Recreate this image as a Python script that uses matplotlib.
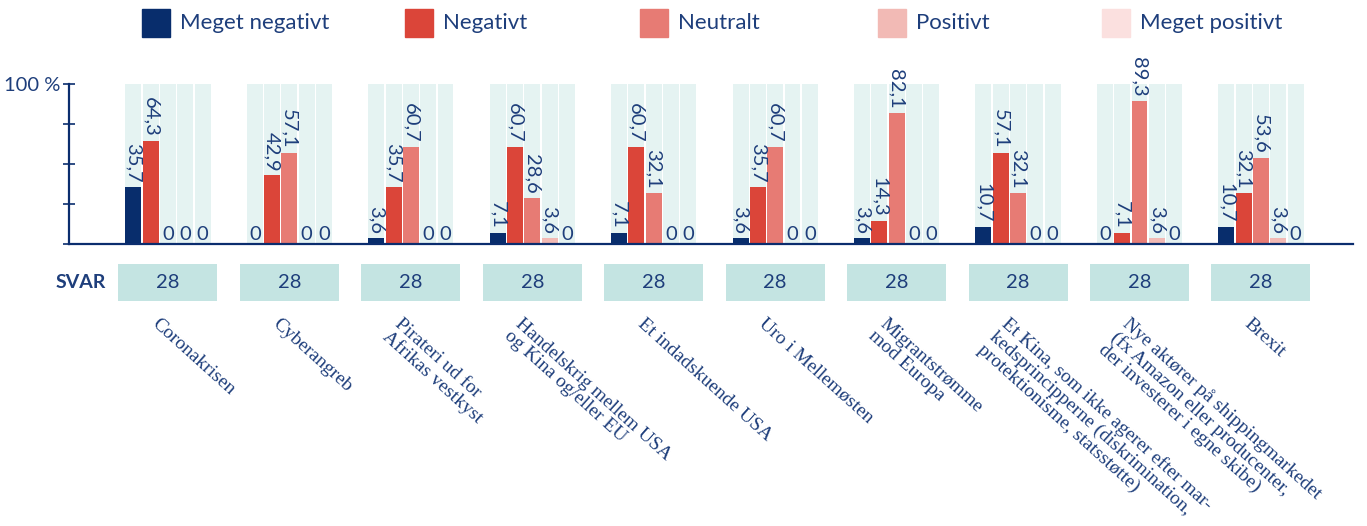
import matplotlib
matplotlib.use("Agg")
import numpy as np
import matplotlib.pyplot as plt
from matplotlib.patches import Rectangle
from matplotlib.transforms import blended_transform_factory

# data
categories = [
    "Coronakrisen",
    "Cyberangreb",
    "Pirateri ud for\nAfrikas vestkyst",
    "Handelskrig mellem USA\nog Kina og/eller EU",
    "Et indadskuende USA",
    "Uro i Mellemøsten",
    "Migrantstrømme\nmod Europa",
    "Et Kina, som ikke agerer efter mar-\nkedsprincipperne (diskrimination,\nprotektionisme, statsstøtte)",
    "Nye aktører på shippingmarkedet\n(fx Amazon eller producenter,\nder investerer i egne skibe)",
    "Brexit",
]
series_names = ["Meget negativt", "Negativt", "Neutralt", "Positivt", "Meget positivt"]
meget_negativt = [35.7, 0, 3.6, 7.1, 7.1, 3.6, 3.6, 10.7, 0, 10.7]
negativt = [64.3, 42.9, 35.7, 60.7, 60.7, 35.7, 14.3, 57.1, 7.1, 32.1]
neutralt = [0, 57.1, 60.7, 28.6, 32.1, 60.7, 82.1, 32.1, 89.3, 53.6]
positivt = [0, 0, 0, 3.6, 0, 0, 0, 0, 3.6, 3.6]
meget_positivt = [0, 0, 0, 0, 0, 0, 0, 0, 0, 0]
svar = [28, 28, 28, 28, 28, 28, 28, 28, 28, 28]

series = [meget_negativt, negativt, neutralt, positivt, meget_positivt]
colors = ["#082d6c", "#db4539", "#e77b74", "#f2bab5", "#fbe0df"]
text_col = "#1e3e7b"
axis_col = "#0b2d6e"
col_bg = "#e5f3f2"
svar_bg = "#c4e4e2"

W, H = 1367, 526
fig = plt.figure(figsize=(W / 100, H / 100), dpi=100)
plt.rcParams['font.family'] = ['Lato', 'DejaVu Sans']

left, right = 69 / W, 1353 / W
ax = fig.add_axes([left, 1 - 244 / H, right - left, 160 / H])
ax2 = fig.add_axes([left, 1 - 301 / H, right - left, 37 / H], sharex=ax)

x = np.arange(len(categories))
pitch, bw = 0.1425, 0.131

for k, (vals, c) in enumerate(zip(series, colors)):
    xs = x + (k - 2) * pitch
    ax.bar(xs, [100] * len(x), width=bw, color=col_bg, zorder=1)
    ax.bar(xs, vals, width=bw, color=c, zorder=2)
    for xi, v in zip(xs, vals):
        lab = f"{v:.1f}".replace(".", ",")
        if v == 0:
            ax.text(xi, 0.8, "0", ha="center", va="bottom", fontsize=14.5,
                    color=text_col, zorder=3)
        else:
            ax.annotate(lab, (xi, v), xytext=(0, 3), textcoords="offset points",
                        rotation=270, ha="center", va="bottom", fontsize=14.5,
                        color=text_col, zorder=3, annotation_clip=False)

ax.set_xlim(-0.815, 9.758)
ax.set_ylim(0, 100)
for s in ["top", "right"]:
    ax.spines[s].set_visible(False)
for s in ["left", "bottom"]:
    ax.spines[s].set_color(axis_col)
    ax.spines[s].set_linewidth(1.6)
ax.set_xticks([])
ax.set_yticks([0, 25, 50, 75, 100])
ax.set_yticklabels(["", "", "", "", "100 %"])
ax.tick_params(axis="y", direction="inout", length=8, width=1.2, color=axis_col,
               labelsize=14.5, labelcolor=text_col, pad=2)

# SVAR row
ax2.bar(x, [1] * len(x), width=0.815, color=svar_bg)
for xi, n in zip(x, svar):
    ax2.text(xi, 0.5, str(n), ha="center", va="center", fontsize=14.5, color=text_col)
ax2.set_ylim(0, 1)
ax2.axis("off")
fig.text(106 / W, 1 - 283 / H, "SVAR", ha="right", va="center", fontsize=14,
         fontweight="bold", color=text_col)

# category labels
tr = blended_transform_factory(ax.transData, fig.transFigure)
for xi, lab in zip(x, categories):
    ax.text(xi - 0.07, 1 - 315 / H, lab, transform=tr, rotation=-42,
            rotation_mode="anchor", ha="left", va="top", fontsize=14,
            family="Liberation Serif", color=text_col, linespacing=1.0,
            multialignment="left")

# legend
legend_x = [142, 405, 640, 878, 1102]
for lx, name, c in zip(legend_x, series_names, colors):
    fig.patches.append(Rectangle((lx / W, 1 - 37 / H), 28 / W, 28 / H,
                                 transform=fig.transFigure, color=c))
    fig.text((lx + 38) / W, 1 - 23 / H, name, ha="left", va="center",
             fontsize=16, color=text_col)

fig.savefig("out.png", dpi=100)
